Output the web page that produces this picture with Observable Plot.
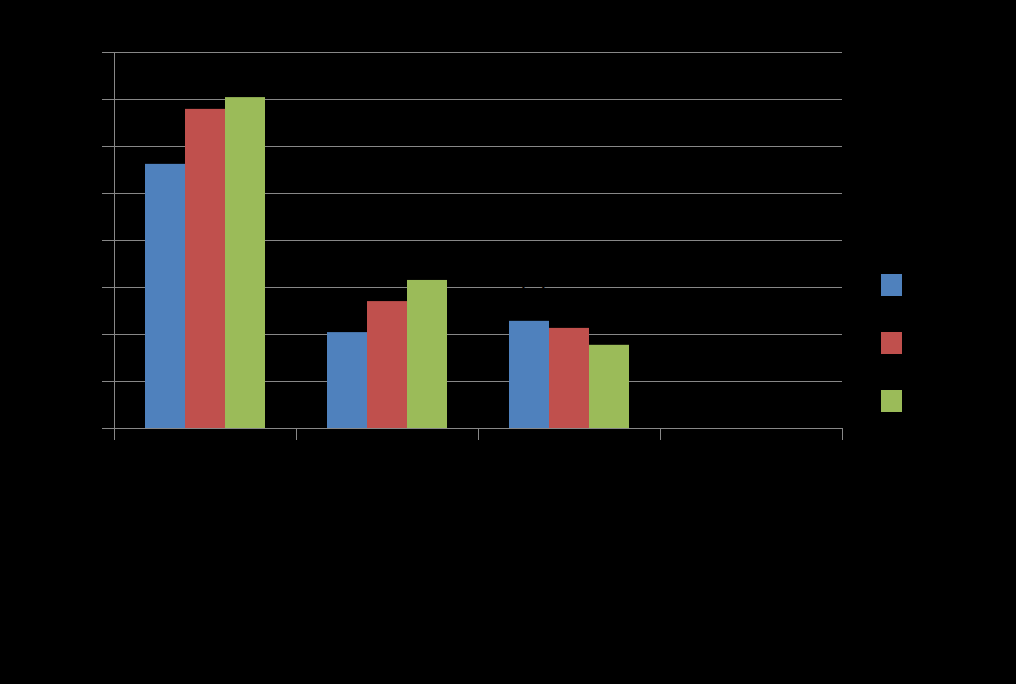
<!DOCTYPE html>
<html><head><meta charset="utf-8">
<script src="https://cdn.jsdelivr.net/npm/d3@7"></script>
<script src="https://cdn.jsdelivr.net/npm/@observablehq/plot@0.6"></script>
<style>
html,body{margin:0;padding:0;background:#000;}
#wrap{position:relative;width:1016px;height:684px;background:#000;overflow:hidden;}
#wrap svg{display:block;}
#legend{position:absolute;left:881px;top:274px;font:16px "Liberation Sans",sans-serif;color:#000;}
.item{display:flex;align-items:center;height:22px;margin-bottom:36px;white-space:nowrap;}
.sw{width:21px;height:22px;margin-right:6px;flex:none;}
</style></head><body><div id="wrap"></div>
<script>
// ---- data ----
const categories = ["Category 1", "Category 2", "Category 3", "Category 4"];
const series = ["Series 1", "Series 2", "Series 3"];
const series1 = [5.62, 2.04, 2.28, null];
const series2 = [6.79, 2.70, 2.13, null];
const series3 = [7.04, 3.15, 1.77, null];
const yTicks = [0, 1, 2, 3, 4, 5, 6, 7, 8];
const colors = ["#4F81BD", "#C0504D", "#9BBB59"];

const grid = "#878787";
const valuesBySeries = [series1, series2, series3];
const table = [];
series.forEach((s, j) => {
  valuesBySeries[j].forEach((v, i) => {
    table.push({category: categories[i], series: s, value: v, label: v == null ? null : v.toFixed(1)});
  });
});

const plot = Plot.plot({
  width: 1016, height: 684,
  marginLeft: 114, marginRight: 174, marginTop: 52, marginBottom: 256,
  style: {background: "#000", color: "#000", fontFamily: "Liberation Sans, sans-serif"},
  fx: {domain: categories, padding: 0, label: null},
  x: {domain: series, paddingInner: 0, paddingOuter: 0.75, axis: null},
  y: {domain: [0, 8], axis: null},
  color: {domain: series, range: colors},
  marks: [
    Plot.gridY(yTicks, {stroke: grid, strokeOpacity: 1}),
    Plot.barY(table, {fx: "category", x: "series", y: "value", fill: "series"}),
    Plot.ruleY([0], {stroke: grid}),
    Plot.text(table, {fx: "category", x: "series", y: "value", text: "label", dy: -30, fill: "#000", fontSize: 24}),
    Plot.frame({anchor: "left", facetAnchor: "left", stroke: grid}),
    Plot.axisY(yTicks, {anchor: "left", tickSize: 12, stroke: grid, fill: "#000", fontSize: 14}),
    Plot.axisFx({anchor: "bottom", tickSize: 12, dx: -91, stroke: grid, tickFormat: () => "", label: null}),
    Plot.axisFx([categories[3]], {anchor: "bottom", tickSize: 12, dx: 91, stroke: grid, tickFormat: () => "", label: null}),
    Plot.axisFx({anchor: "bottom", tickSize: 0, tickPadding: 22, fill: "#000", fontSize: 16, label: null})
  ]
});

const wrap = document.getElementById("wrap");
wrap.appendChild(plot);

const color = plot.scale("color");
const legend = d3.select(wrap).append("div").attr("id", "legend");
series.forEach(s => {
  const it = legend.append("div").attr("class", "item");
  it.append("span").attr("class", "sw").style("background", color.apply(s));
  it.append("span").text(s);
});
</script>
</body></html>
